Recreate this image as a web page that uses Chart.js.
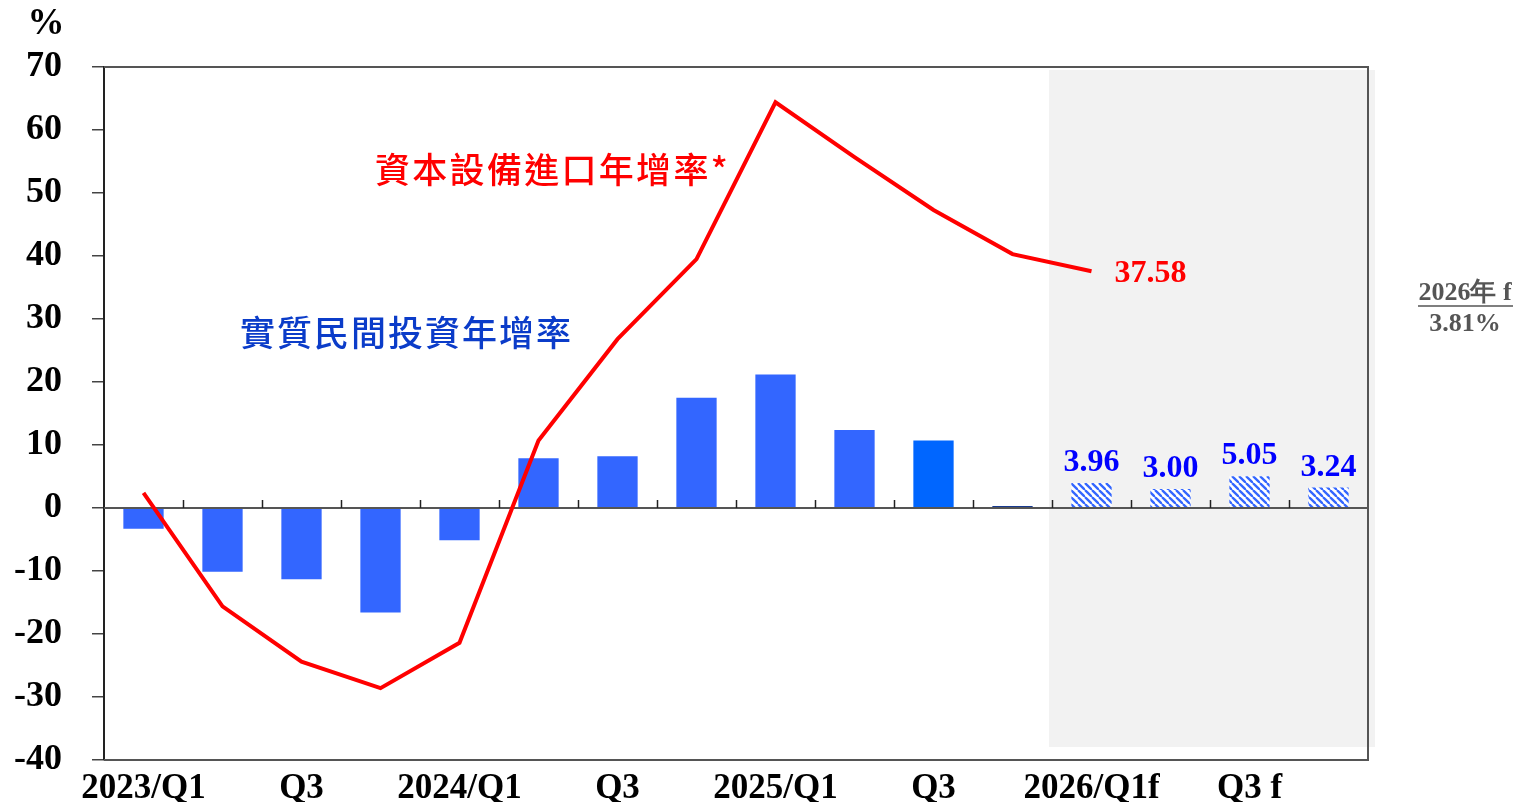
<!DOCTYPE html>
<html>
<head>
<meta charset="utf-8">
<script src="https://cdn.jsdelivr.net/npm/chart.js@4.4.1/dist/chart.umd.min.js"></script>
<style>
  body { margin: 0; background: #fff; }
  #wrap { width: 1517px; height: 802px; }
</style>
</head>
<body>
<div id="wrap"><canvas id="c" width="1517" height="802"></canvas></div>
<script>
// quarters, forecast ones marked f
const categories = ['2023/Q1','2023/Q2','2023/Q3','2023/Q4','2024/Q1','2024/Q2','2024/Q3','2024/Q4',
  '2025/Q1','2025/Q2','2025/Q3','2025/Q4','2026/Q1f','2026/Q2f','2026/Q3f','2026/Q4f'];
const tickLabels = ['2023/Q1','','Q3','','2024/Q1','','Q3','','2025/Q1','','Q3','','2026/Q1f','','Q3 f',''];
// 實質民間投資年增率
const investGrowth = [-3.3,-10.1,-11.3,-16.6,-5.1,7.9,8.2,17.5,21.2,12.4,10.7,0.3,3.96,3.00,5.05,3.24];
// 資本設備進口年增率
const importGrowth = [2.4,-15.6,-24.4,-28.6,-21.4,10.7,26.8,39.5,64.4,55.7,47.3,40.3,37.58,null,null,null];
const yTicks = [70,60,50,40,30,20,10,0,-10,-20,-30,-40];

const serif = '"Liberation Serif","Times New Roman",serif';
const cjk = '"Noto Sans CJK TC","Noto Sans CJK SC",sans-serif';

// striped fill for forecast bars
function stripes() {
  const s = 7;
  const p = document.createElement('canvas');
  p.width = s; p.height = s;
  const g = p.getContext('2d');
  g.fillStyle = '#fff';
  g.fillRect(0, 0, s, s);
  g.strokeStyle = '#3366ff';
  g.lineWidth = 2.3;
  for (const k of [-s, 0, s]) {
    g.beginPath();
    g.moveTo(k, 0);
    g.lineTo(k + s, s);
    g.stroke();
  }
  return document.getElementById('c').getContext('2d').createPattern(p, 'repeat');
}
const hatch = stripes();

const barColors = investGrowth.map((v, i) => {
  if (i >= 12) return hatch;
  if (i === 10) return '#0066ff';
  if (i === 11) return '#173a8f';
  return '#3366ff';
});

const decor = {
  id: 'decor',
  beforeDatasetsDraw(chart) {
    const { ctx, chartArea: a, scales: { x, y } } = chart;
    const left = (x.getPixelForValue(11) + x.getPixelForValue(12)) / 2 - 3;
    ctx.save();
    ctx.fillStyle = '#f2f2f2';
    ctx.fillRect(left, y.getPixelForValue(70) + 3, a.right + 7 - left, y.getPixelForValue(-40) - 13 - y.getPixelForValue(70) - 3);
    ctx.restore();
  },
  afterDatasetDraw(chart, args) {
    if (args.index !== 0) return;
    const { ctx, chartArea: a, scales: { x, y } } = chart;
    const y0 = y.getPixelForValue(0);
    ctx.save();
    ctx.strokeStyle = '#555';
    ctx.lineWidth = 2;
    ctx.beginPath();
    ctx.moveTo(a.left, y0);
    ctx.lineTo(a.right, y0);
    ctx.stroke();
    ctx.lineWidth = 1.5;
    ctx.strokeStyle = '#222';
    for (let i = 0; i < categories.length - 1; i++) {
      const bx = Math.round((x.getPixelForValue(i) + x.getPixelForValue(i + 1)) / 2) + 0.5;
      ctx.beginPath();
      ctx.moveTo(bx, y0);
      ctx.lineTo(bx, y0 - 8);
      ctx.stroke();
    }
    // frame
    ctx.strokeStyle = '#555';
    ctx.lineWidth = 2;
    ctx.beginPath();
    ctx.moveTo(a.left, a.top);
    ctx.lineTo(a.right, a.top);
    ctx.lineTo(a.right, a.bottom);
    ctx.lineTo(a.left, a.bottom);
    ctx.stroke();
    ctx.restore();
  },
  afterDatasetsDraw(chart) {
    const { ctx, chartArea: a } = chart;
    const bars = chart.getDatasetMeta(0).data;
    ctx.save();
    ctx.textAlign = 'center';
    ctx.textBaseline = 'middle';
    ctx.fillStyle = '#0000ff';
    ctx.font = 'bold 32px ' + serif;
    for (let i = 12; i < investGrowth.length; i++) {
      ctx.fillText(investGrowth[i].toFixed(2), bars[i].x, bars[i].y - 20);
    }
    const pts = chart.getDatasetMeta(1).data;
    const last = pts[12];
    ctx.fillStyle = '#ff0000';
    ctx.textAlign = 'left';
    ctx.fillText(importGrowth[12].toFixed(2), last.x + 23, last.y + 2);

    ctx.font = '500 35px ' + cjk;
    ctx.letterSpacing = '2.3px';
    ctx.fillText('資本設備進口年增率*', 375, 170);
    ctx.fillStyle = '#0b3cc9';
    ctx.letterSpacing = '2px';
    ctx.fillText('實質民間投資年增率', 240, 333);
    ctx.letterSpacing = '0px';

    ctx.font = 'bold 37px ' + serif;
    ctx.fillStyle = '#000';
    ctx.textAlign = 'center';
    ctx.fillText('%', 46, 24);

    const cx = a.right + 97;
    ctx.font = 'bold 26px ' + serif;
    ctx.fillStyle = '#555';
    ctx.fillText('2026年 f', cx, 293);
    ctx.fillText('3.81%', cx, 324);
    ctx.strokeStyle = '#555';
    ctx.lineWidth = 1.5;
    ctx.beginPath();
    ctx.moveTo(cx - 47, 306);
    ctx.lineTo(cx + 48, 306);
    ctx.stroke();
    ctx.restore();
  }
};

new Chart(document.getElementById('c'), {
  data: {
    labels: categories,
    datasets: [
      {
        type: 'bar',
        label: '實質民間投資年增率',
        data: investGrowth,
        backgroundColor: barColors,
        barPercentage: 0.51,
        categoryPercentage: 1,
        order: 1
      },
      {
        type: 'line',
        label: '資本設備進口年增率*',
        data: importGrowth,
        borderColor: '#ff0000',
        borderWidth: 4,
        pointRadius: 0,
        tension: 0,
        spanGaps: false,
        order: 0
      }
    ]
  },
  options: {
    responsive: false,
    animation: false,
    layout: { padding: { top: 67, right: 149, left: 0, bottom: 0 } },
    plugins: { legend: { display: false }, tooltip: { enabled: false } },
    scales: {
      x: {
        grid: { display: false },
        border: { display: false },
        ticks: {
          autoSkip: false,
          maxRotation: 0,
          padding: 2,
          color: '#000',
          font: { family: serif, size: 35, weight: 'bold', lineHeight: 1.1 },
          callback: (v, i) => tickLabels[i]
        },
        afterFit: s => { s.height = 42; s.paddingLeft = 0; s.paddingRight = 0; }
      },
      y: {
        min: -40,
        max: 70,
        afterBuildTicks: s => { s.ticks = yTicks.map(v => ({ value: v })); },
        grid: { drawOnChartArea: false, tickLength: 12, color: '#444', lineWidth: 1.5 },
        border: { display: true, color: '#222', width: 2 },
        ticks: {
          padding: 30,
          color: '#000',
          font: { family: serif, size: 36, weight: 'bold' }
        },
        afterFit: s => { s.width = 104; s.paddingTop = 0; s.paddingBottom = 0; }
      }
    }
  },
  plugins: [decor]
});
</script>
</body>
</html>
